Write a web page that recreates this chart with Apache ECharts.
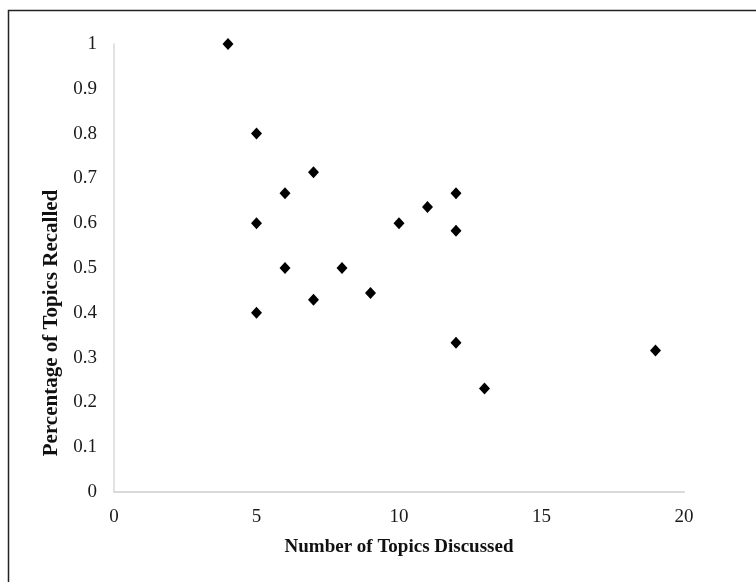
<!DOCTYPE html>
<html>
<head>
<meta charset="utf-8">
<script src="https://cdn.jsdelivr.net/npm/echarts@6/dist/echarts.min.js"></script>
<style>html,body{margin:0;padding:0;background:#fff;}#c{width:756px;height:582px;}</style>
</head>
<body>
<div id="c"></div>
<script>
var topicsDiscussed = [4, 5, 5, 5, 6, 6, 7, 7, 8, 9, 10, 11, 12, 12, 12, 13, 19];
var percentRecalled = [1, 0.8, 0.6, 0.4, 0.667, 0.5, 0.714, 0.429, 0.5, 0.444, 0.6, 0.636, 0.667, 0.583, 0.333, 0.231, 0.316];
var xTitle = 'Number of Topics Discussed';
var yTitle = 'Percentage of Topics Recalled';

var points = topicsDiscussed.map(function (x, i) { return [x, percentRecalled[i]]; });
var chart = echarts.init(document.getElementById('c'));
var font = 'Liberation Serif';
chart.setOption({
  animation: false,
  backgroundColor: '#fff',
  graphic: [{
    type: 'rect',
    shape: { x: 8.5, y: 10.5, width: 800, height: 800 },
    style: { fill: 'none', stroke: '#222', lineWidth: 1.5 },
    silent: true
  }],
  grid: { left: 114, right: 72, top: 44, bottom: 90 },
  xAxis: {
    type: 'value', min: 0, max: 20, interval: 5,
    name: xTitle, nameLocation: 'middle', nameGap: 46,
    nameTextStyle: { fontFamily: font, fontSize: 19, fontWeight: 'bold', color: '#111' },
    axisLine: { show: true, lineStyle: { color: '#d9d9d9', width: 2 } },
    axisTick: { show: false },
    splitLine: { show: false },
    axisLabel: { fontFamily: font, fontSize: 19, color: '#1a1a1a', margin: 16 }
  },
  yAxis: {
    type: 'value', min: 0, max: 1, interval: 0.1,
    name: yTitle, nameLocation: 'middle', nameGap: 48,
    nameTextStyle: { fontFamily: font, fontSize: 21, fontWeight: 'bold', color: '#111', padding: [0, 110, 0, 0] },
    axisLine: { show: true, lineStyle: { color: '#d9d9d9', width: 1.5 } },
    axisTick: { show: false },
    splitLine: { show: false },
    axisLabel: { fontFamily: font, fontSize: 19, color: '#1a1a1a', margin: 17,
      formatter: function (v) { return String(Math.round(v * 10) / 10); } }
  },
  series: [{
    type: 'scatter',
    data: points,
    symbol: 'diamond',
    symbolSize: [11, 12],
    itemStyle: { color: '#000', opacity: 1 }
  }]
});
</script>
</body>
</html>
